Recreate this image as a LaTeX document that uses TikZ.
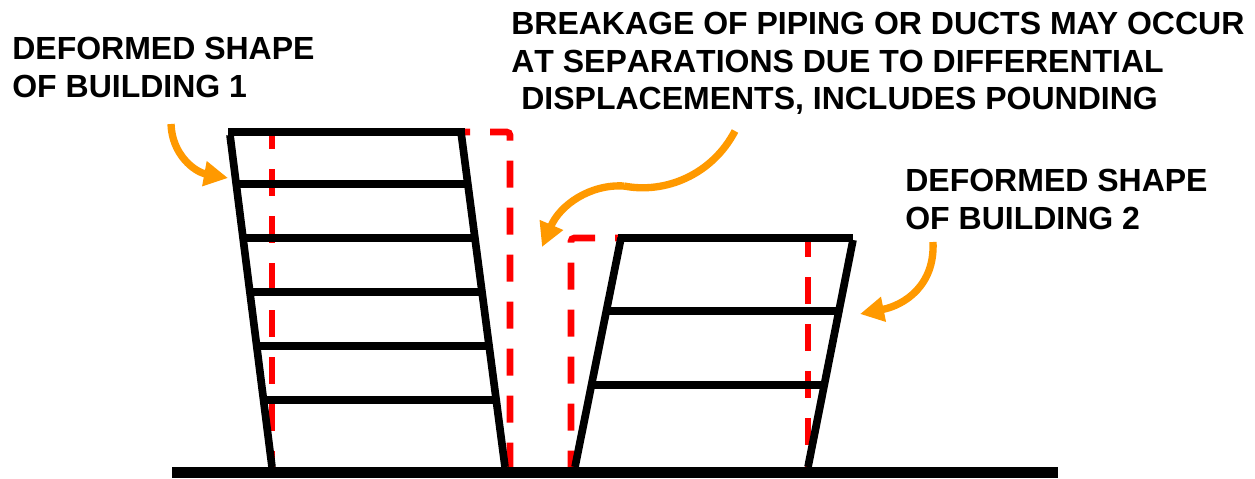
\documentclass[tikz,border=0pt]{standalone}
\usepackage{fontspec}
\setmainfont{Liberation Sans}
\usetikzlibrary{arrows.meta}
\definecolor{DriftRed}{RGB}{255,0,0}
\definecolor{NoteOrange}{RGB}{255,153,0}
\tikzset{
note/.style={anchor=north west,align=left,inner sep=0pt,font=\fontsize{19.2}{22.4}\selectfont\bfseries},
frame/.style={line width=4.6pt,black},
ground/.style={line width=6.6pt,black},
drift/.style={line width=4pt,DriftRed,dash pattern=on 16.2pt off 12pt},
pointer/.style={line width=4.4pt,NoteOrange,-{Triangle[length=14.4pt,width=14.4pt]}},
}
\begin{document}
\begin{tikzpicture}[x=0.6pt,y=-0.6pt]
\useasboundingbox (0,0) rectangle (1255,478);
\node[note] (n1) at (12,37) {DEFORMED SHAPE\\OF BUILDING 1};
\node[note] (n2) at (511,12) {BREAKAGE OF PIPING OR DUCTS MAY OCCUR\\{\addfontfeature{Kerning=Off}AT SEPARATIONS DUE TO DIFFERENTIAL}\\\hspace*{6pt}DISPLACEMENTS, INCLUDES POUNDING};
\node[note] (n3) at (905,169) {DEFORMED SHAPE\\OF BUILDING 2};
% undeformed outlines
\draw[drift,dash phase=6pt] (272,132)--(272,467);
\draw[drift,dash phase=10.2pt,rounded corners=2pt] (272,132)--(510,132)--(510,467);
\draw[drift,dash phase=14.4pt,rounded corners=2pt] (618,238)--(571,238)--(571,467);
\draw[drift,dash phase=4.8pt] (808,238)--(808,467);
% deformed building 1
\draw[frame] (228,132)--(465,132);
\draw[frame] (230,135)--(272,467);
\draw[frame] (461,132)--(505,467);
\foreach \y/\a/\b in {184/237/468,238/243/474,292/250/480,346/258/487,400/266/495}
  \draw[frame] (\a,\y)--(\b,\y);
% deformed building 2
\draw[frame] (618,238)--(853,238);
\draw[frame] (621,238)--(575,467);
\draw[frame] (853,240)--(808,467);
\foreach \y/\a/\b in {311/607/838,385/592/823}
  \draw[frame] (\a,\y)--(\b,\y);
\draw[ground] (172,472.5)--(1058,472.5);
% arrows
\coordinate (s1) at (171,124);
\coordinate (t1) at (228,178);
\coordinate (s2) at (735,131);
\coordinate (m2) at (624,186);
\coordinate (t2) at (542,247);
\coordinate (s3) at (933,242);
\coordinate (t3) at (860,314);
\draw[pointer] (s1) .. controls (172,155) and (195,172) .. (t1);
\draw[line width=4.4pt,NoteOrange] (s2) .. controls (712,175) and (665,194) .. (m2);
\draw[pointer] (m2) .. controls (590,184) and (560,205) .. (t2);
\draw[pointer] (s3) .. controls (935,285) and (905,305) .. (t3);
\end{tikzpicture}
\end{document}
